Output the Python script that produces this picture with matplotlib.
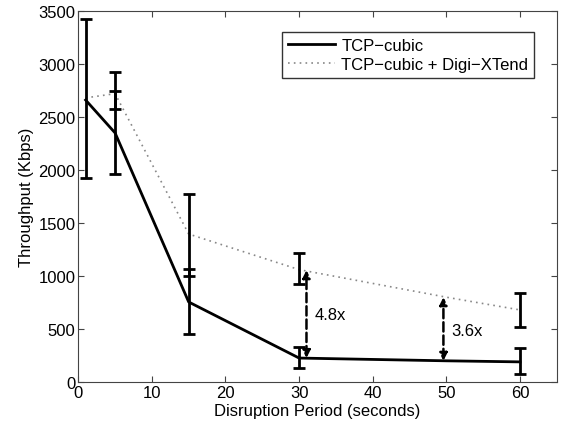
import numpy as np
import matplotlib
matplotlib.use('Agg')
import matplotlib.pyplot as plt

plt.rcParams['font.family'] = ['Liberation Sans', 'DejaVu Sans']

# Dados
periodos = [1, 5, 15, 30, 50, 60]
tcp_cubic = [2660, 2350, 755, 226, 200, 190]
tcp_digi = [2680, 2720, 1396, 1060, 800, 680]

# barras de erro (x, inferior, superior)
err_x_cubic = [1, 5, 15, 30, 60]
err_lo_cubic = [1925, 1960, 450, 132, 72]
err_hi_cubic = [3420, 2920, 1770, 330, 320]

err_x_digi = [5, 15, 30, 60]
err_lo_digi = [2575, 1000, 925, 519]
err_hi_digi = [2745, 1066, 1220, 840]

# setas de ganho (x, de, ate, rotulo)
seta_x = [31, 49.6]
seta_de = [226, 200]
seta_ate = [1055, 800]
seta_txt = ['4.8x', '3.6x']
seta_txt_y = [640, 490]

fig = plt.figure(figsize=(5.67, 4.27), dpi=100)
ax = fig.add_axes([0.138, 0.103, 0.844, 0.869])

ax.plot(periodos, tcp_cubic, '-', color='black', lw=2, label='TCP\u2212cubic')
ax.plot(periodos, tcp_digi, linestyle=(0, (1, 2.5)), color='#888888', lw=1.2,
        label='TCP\u2212cubic + Digi\u2212XTend')

lo = np.array(err_lo_cubic); hi = np.array(err_hi_cubic)
ax.errorbar(err_x_cubic, (lo + hi) / 2, yerr=(hi - lo) / 2, fmt='none',
            ecolor='black', elinewidth=2, capsize=4, capthick=2)
lo = np.array(err_lo_digi); hi = np.array(err_hi_digi)
ax.errorbar(err_x_digi, (lo + hi) / 2, yerr=(hi - lo) / 2, fmt='none',
            ecolor='black', elinewidth=2, capsize=4, capthick=2)

for x, a, b, t, ty in zip(seta_x, seta_de, seta_ate, seta_txt, seta_txt_y):
    ax.annotate('', xy=(x, b), xytext=(x, a),
                arrowprops=dict(arrowstyle='<|-|>', ls='--', lw=1.8, color='black',
                                mutation_scale=11, shrinkA=0, shrinkB=0))
    ax.text(x + 1.1, ty, t, fontsize=12, va='center', ha='left')

ax.set_xlim(0, 65)
ax.set_ylim(0, 3500)
ax.set_xticks(range(0, 61, 10))
ax.set_yticks(range(0, 3501, 500))
for s in ax.spines.values():
    s.set_color('#444444')
ax.tick_params(direction='in', top=True, right=True, labelsize=12, length=4,
               color='#444444', pad=2)
ax.set_xlabel('Disruption Period (seconds)', fontsize=12, labelpad=2)
ax.set_ylabel('Throughput (Kbps)', fontsize=12, labelpad=3)

leg = ax.legend(loc='upper right', bbox_to_anchor=(0.97, 0.965), fontsize=12,
                fancybox=False, edgecolor='black', handlelength=2.8,
                borderpad=0.35, labelspacing=0.25, handletextpad=0.4)
leg.get_frame().set_linewidth(1)

fig.savefig('out.png', dpi=100)
